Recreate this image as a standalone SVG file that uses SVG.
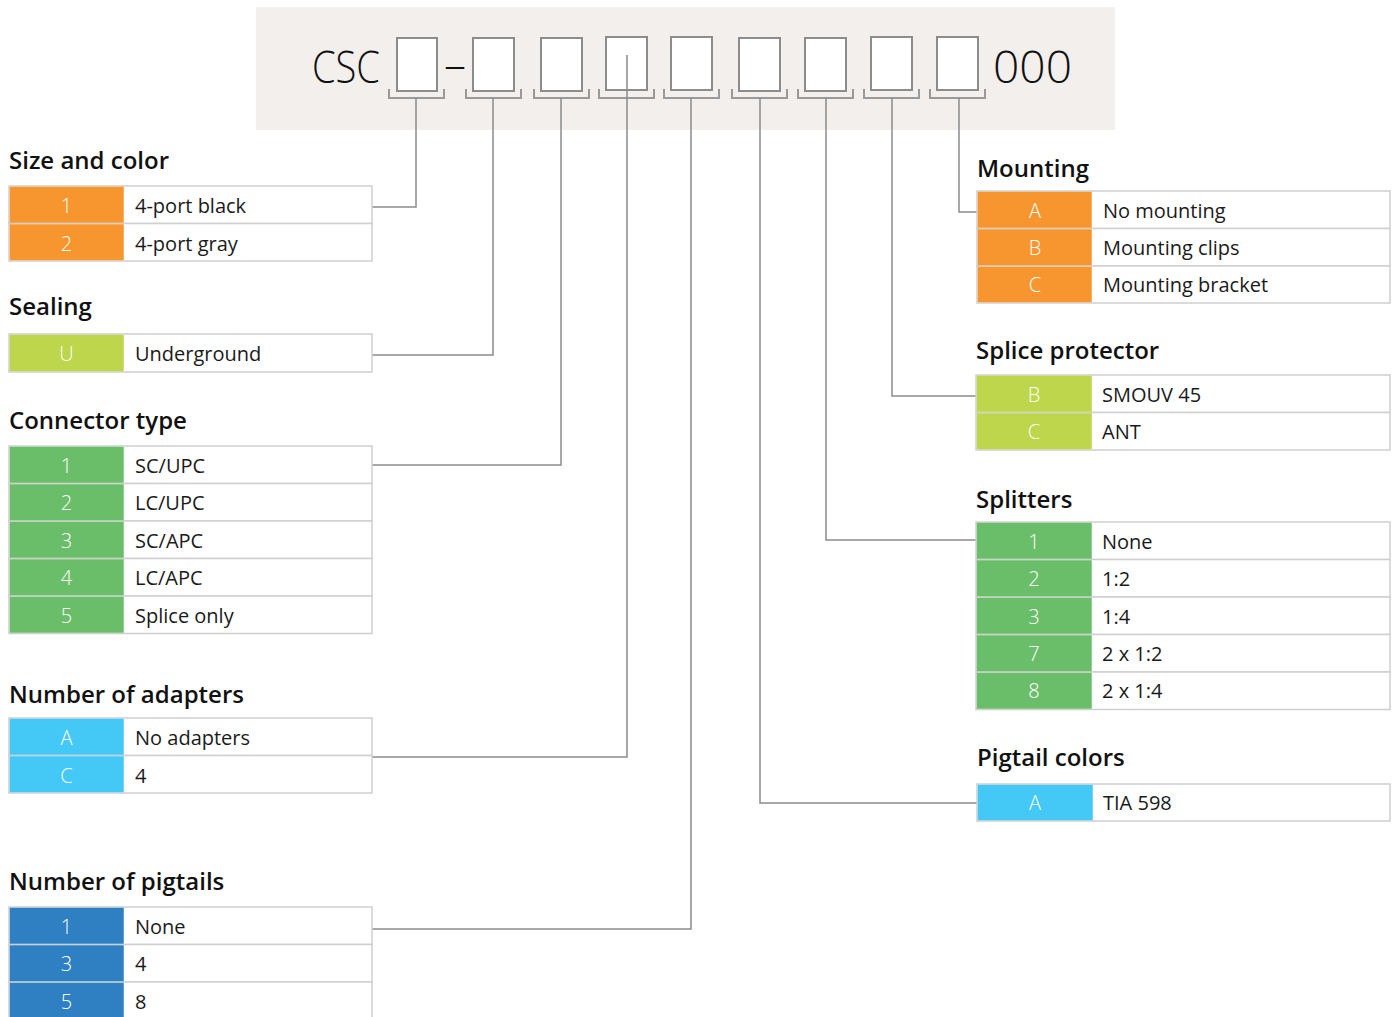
<svg xmlns="http://www.w3.org/2000/svg" width="1393" height="1017" viewBox="0 0 1393 1017">
<style>
.title{font-family:"Open Sans","Liberation Sans",sans-serif;font-weight:600;font-size:24px;fill:#111;}
.txt{font-family:"Open Sans","Liberation Sans",sans-serif;font-size:20px;fill:#1a1a1a;}
.code{font-family:"Open Sans","Liberation Sans",sans-serif;font-weight:300;font-size:20px;fill:#fff;text-anchor:middle;}
.cell{fill:#fff;stroke:#cfcfcf;stroke-width:1.5;}
.or{fill:#f7962f;}
.yg{fill:#bdd64b;}
.gr{fill:#6bbe69;}
.lb{fill:#44c8f5;}
.bl{fill:#2f80c2;}
.box{fill:#fff;stroke:#8c8c8c;stroke-width:2;}
.br{fill:none;stroke:#9a9a9a;stroke-width:2;}
.conn{fill:none;stroke:#8c8c8c;stroke-width:1.5;}
.big{font-family:"Open Sans","Liberation Sans",sans-serif;font-weight:300;font-size:44px;fill:#111;}
</style>

<g id="header">
<rect x="256" y="7" width="859" height="123" fill="#f2efec"/>
<text class="big" x="312" y="83" textLength="68" lengthAdjust="spacingAndGlyphs">CSC</text>
<text class="big" x="455" y="80" text-anchor="middle">–</text>
<text class="big" x="993" y="83" textLength="79" lengthAdjust="spacingAndGlyphs">000</text>
<rect class="box" x="397" y="38" width="40" height="53"/>
<rect class="box" x="473" y="38" width="41" height="53"/>
<rect class="box" x="541" y="38" width="41" height="53"/>
<rect class="box" x="606" y="37" width="41" height="53"/>
<rect class="box" x="671" y="37" width="41" height="53"/>
<rect class="box" x="739" y="38" width="41" height="53"/>
<rect class="box" x="805" y="38" width="41" height="53"/>
<rect class="box" x="871" y="37" width="41" height="53"/>
<rect class="box" x="937" y="37" width="41" height="53"/>
<path class="br" d="M389 89V98H444V89M466 89V98H521V89M534 89V98H589V89M599 89V98H654V89M664 89V98H719V89M732 89V98H787V89M798 89V98H853V89M864 89V98H919V89M930 89V98H985V89"/>
</g>

<g id="connectors">
<path class="conn" d="M416 98V207H372"/>
<path class="conn" d="M493 98V355H372"/>
<path class="conn" d="M561 98V465H372"/>
<path class="conn" d="M627 55V757H372"/>
<path class="conn" d="M691 98V929H372"/>
<path class="conn" d="M760 98V803H977"/>
<path class="conn" d="M826 98V540H977"/>
<path class="conn" d="M892 98V396H977"/>
<path class="conn" d="M959 98V212H977"/>
</g>

<g id="size-and-color">
<text class="title" x="9" y="169">Size and color</text>
<rect class="cell" x="9" y="186" width="363" height="37.5"/>
<rect class="cell" x="9" y="223.5" width="363" height="37.5"/>
<rect class="or" x="9.75" y="186.75" width="114" height="36"/>
<rect class="or" x="9.75" y="224.25" width="114" height="36"/>
<text class="code" x="66.5" y="213">1</text><text class="txt" x="135" y="213">4-port black</text>
<text class="code" x="66.5" y="251">2</text><text class="txt" x="135" y="251">4-port gray</text>
</g>

<g id="sealing">
<text class="title" x="9" y="315">Sealing</text>
<rect class="cell" x="9" y="334" width="363" height="38"/>
<rect class="yg" x="9.75" y="334.75" width="114" height="36.5"/>
<text class="code" x="66.5" y="361">U</text><text class="txt" x="135" y="361">Underground</text>
</g>

<g id="connector-type">
<text class="title" x="9" y="429">Connector type</text>
<rect class="cell" x="9" y="446" width="363" height="37.5"/>
<rect class="cell" x="9" y="483.5" width="363" height="37.5"/>
<rect class="cell" x="9" y="521" width="363" height="37.5"/>
<rect class="cell" x="9" y="558.5" width="363" height="37.5"/>
<rect class="cell" x="9" y="596" width="363" height="37.5"/>
<rect class="gr" x="9.75" y="446.75" width="114" height="36"/>
<rect class="gr" x="9.75" y="484.25" width="114" height="36"/>
<rect class="gr" x="9.75" y="521.75" width="114" height="36"/>
<rect class="gr" x="9.75" y="559.25" width="114" height="36"/>
<rect class="gr" x="9.75" y="596.75" width="114" height="36"/>
<text class="code" x="66.5" y="473">1</text><text class="txt" x="135" y="473">SC/UPC</text>
<text class="code" x="66.5" y="510">2</text><text class="txt" x="135" y="510">LC/UPC</text>
<text class="code" x="66.5" y="548">3</text><text class="txt" x="135" y="548">SC/APC</text>
<text class="code" x="66.5" y="585">4</text><text class="txt" x="135" y="585">LC/APC</text>
<text class="code" x="66.5" y="623">5</text><text class="txt" x="135" y="623">Splice only</text>
</g>

<g id="number-of-adapters">
<text class="title" x="9" y="703">Number of adapters</text>
<rect class="cell" x="9" y="718" width="363" height="37.5"/>
<rect class="cell" x="9" y="755.5" width="363" height="37.5"/>
<rect class="lb" x="9.75" y="718.75" width="114" height="36"/>
<rect class="lb" x="9.75" y="756.25" width="114" height="36"/>
<text class="code" x="66.5" y="745">A</text><text class="txt" x="135" y="745">No adapters</text>
<text class="code" x="66.5" y="783">C</text><text class="txt" x="135" y="783">4</text>
</g>

<g id="number-of-pigtails">
<text class="title" x="9" y="890">Number of pigtails</text>
<rect class="cell" x="9" y="907" width="363" height="37.5"/>
<rect class="cell" x="9" y="944.5" width="363" height="37.5"/>
<rect class="cell" x="9" y="982" width="363" height="37.5"/>
<rect class="bl" x="9.75" y="907.75" width="114" height="36"/>
<rect class="bl" x="9.75" y="945.25" width="114" height="36"/>
<rect class="bl" x="9.75" y="982.75" width="114" height="36"/>
<text class="code" x="66.5" y="934">1</text><text class="txt" x="135" y="934">None</text>
<text class="code" x="66.5" y="971">3</text><text class="txt" x="135" y="971">4</text>
<text class="code" x="66.5" y="1009">5</text><text class="txt" x="135" y="1009">8</text>
</g>

<g id="mounting">
<text class="title" x="977" y="177">Mounting</text>
<rect class="cell" x="977" y="191" width="413" height="37.5"/>
<rect class="cell" x="977" y="228.5" width="413" height="37.5"/>
<rect class="cell" x="977" y="266" width="413" height="37"/>
<rect class="or" x="977.75" y="191.75" width="114" height="36"/>
<rect class="or" x="977.75" y="229.25" width="114" height="36"/>
<rect class="or" x="977.75" y="266.75" width="114" height="35.5"/>
<text class="code" x="1035" y="218">A</text><text class="txt" x="1103" y="218">No mounting</text>
<text class="code" x="1035" y="255">B</text><text class="txt" x="1103" y="255">Mounting clips</text>
<text class="code" x="1035" y="292">C</text><text class="txt" x="1103" y="292">Mounting bracket</text>
</g>

<g id="splice-protector">
<text class="title" x="976" y="359">Splice protector</text>
<rect class="cell" x="976" y="375" width="414" height="37.5"/>
<rect class="cell" x="976" y="412.5" width="414" height="37.5"/>
<rect class="yg" x="976.75" y="375.75" width="115" height="36"/>
<rect class="yg" x="976.75" y="413.25" width="115" height="36"/>
<text class="code" x="1034" y="402">B</text><text class="txt" x="1102" y="402">SMOUV 45</text>
<text class="code" x="1034" y="439">C</text><text class="txt" x="1102" y="439">ANT</text>
</g>

<g id="splitters">
<text class="title" x="976" y="508">Splitters</text>
<rect class="cell" x="976" y="522" width="414" height="37.5"/>
<rect class="cell" x="976" y="559.5" width="414" height="37.5"/>
<rect class="cell" x="976" y="597" width="414" height="37.5"/>
<rect class="cell" x="976" y="634.5" width="414" height="37.5"/>
<rect class="cell" x="976" y="672" width="414" height="37.5"/>
<rect class="gr" x="976.75" y="522.75" width="115" height="36"/>
<rect class="gr" x="976.75" y="560.25" width="115" height="36"/>
<rect class="gr" x="976.75" y="597.75" width="115" height="36"/>
<rect class="gr" x="976.75" y="635.25" width="115" height="36"/>
<rect class="gr" x="976.75" y="672.75" width="115" height="36"/>
<text class="code" x="1034" y="549">1</text><text class="txt" x="1102" y="549">None</text>
<text class="code" x="1034" y="586">2</text><text class="txt" x="1102" y="586">1:2</text>
<text class="code" x="1034" y="624">3</text><text class="txt" x="1102" y="624">1:4</text>
<text class="code" x="1034" y="661">7</text><text class="txt" x="1102" y="661">2 x 1:2</text>
<text class="code" x="1034" y="698">8</text><text class="txt" x="1102" y="698">2 x 1:4</text>
</g>

<g id="pigtail-colors">
<text class="title" x="977" y="766">Pigtail colors</text>
<rect class="cell" x="977" y="784" width="413" height="37"/>
<rect class="lb" x="977.75" y="784.75" width="115" height="35.5"/>
<text class="code" x="1035" y="810">A</text><text class="txt" x="1103" y="810">TIA 598</text>
</g>
</svg>
